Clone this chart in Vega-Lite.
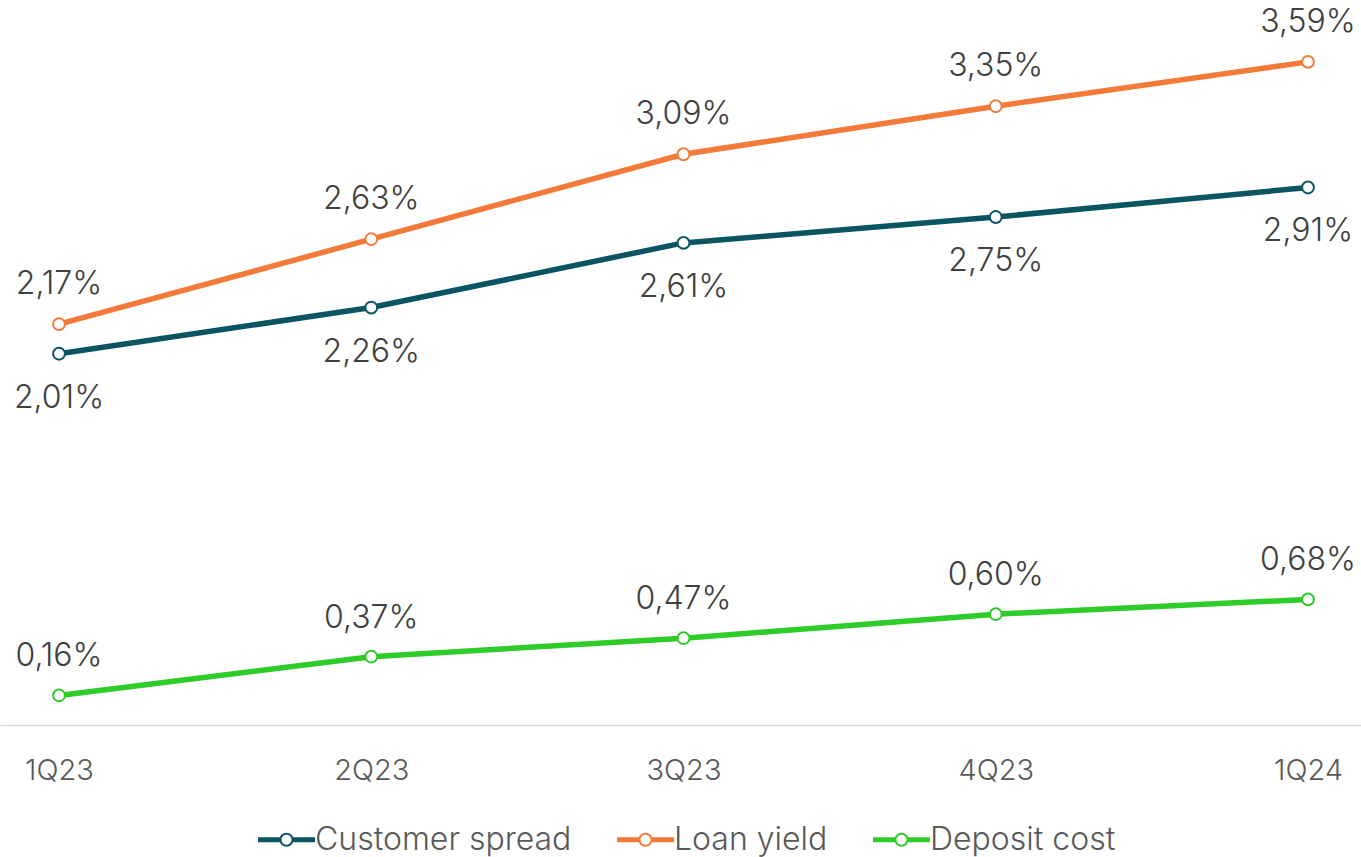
{
  "$schema": "https://vega.github.io/schema/vega-lite/v6.json",
  "width": 1361,
  "height": 725,
  "autosize": {"type": "none"},
  "padding": {"top": 0, "left": 0, "right": 0, "bottom": 132},
  "background": "white",
  "config": {
    "view": {"stroke": null},
    "font": "Inter",
    "locale": {"number": {"decimal": ",", "thousands": ".", "grouping": [3], "currency": ["", " €"]}}
  },
  "data": {"values": [
    {"quarter": "1Q23", "series": "Customer spread", "value": 0.0201},
    {"quarter": "2Q23", "series": "Customer spread", "value": 0.0226},
    {"quarter": "3Q23", "series": "Customer spread", "value": 0.0261},
    {"quarter": "4Q23", "series": "Customer spread", "value": 0.0275},
    {"quarter": "1Q24", "series": "Customer spread", "value": 0.0291},
    {"quarter": "1Q23", "series": "Loan yield", "value": 0.0217},
    {"quarter": "2Q23", "series": "Loan yield", "value": 0.0263},
    {"quarter": "3Q23", "series": "Loan yield", "value": 0.0309},
    {"quarter": "4Q23", "series": "Loan yield", "value": 0.0335},
    {"quarter": "1Q24", "series": "Loan yield", "value": 0.0359},
    {"quarter": "1Q23", "series": "Deposit cost", "value": 0.0016},
    {"quarter": "2Q23", "series": "Deposit cost", "value": 0.0037},
    {"quarter": "3Q23", "series": "Deposit cost", "value": 0.0047},
    {"quarter": "4Q23", "series": "Deposit cost", "value": 0.0060},
    {"quarter": "1Q24", "series": "Deposit cost", "value": 0.0068}
  ]},
  "encoding": {
    "x": {
      "field": "quarter", "type": "ordinal", "sort": null,
      "scale": {"type": "point", "range": [0, 1367], "padding": 0.189},
      "axis": {"title": null, "labelAngle": 0, "ticks": false, "labelFontSize": 29, "labelColor": "#595959", "labelFont": "Inter", "labelFontWeight": 300, "labelPadding": 31, "domainColor": "#d9d9d9", "domainWidth": 1.5, "grid": false}
    },
    "y": {
      "field": "value", "type": "quantitative",
      "scale": {"domain": [0, 0.03925], "nice": false, "zero": true},
      "axis": null
    }
  },
  "layer": [
    {
      "mark": {"type": "line", "strokeWidth": 5.5},
      "encoding": {
        "color": {
          "field": "series", "type": "nominal",
          "scale": {"domain": ["Customer spread", "Loan yield", "Deposit cost"], "range": ["#0b5563", "#f47a3a", "#2ecc28"]},
          "legend": {
            "title": null, "orient": "none", "direction": "horizontal",
            "legendX": 258, "legendY": 811, "padding": 0,
            "labelLimit": 500,
            "labelFontSize": 32, "labelColor": "#595959", "labelFont": "Inter", "labelFontWeight": 300,
            "symbolType": "M-1,-0.088L-0.2,-0.088L-0.2,0.088L-1,0.088ZM0.2,-0.088L1,-0.088L1,0.088L0.2,0.088ZM0.246,0A0.246,0.246 0 1,1 -0.246,0A0.246,0.246 0 1,1 0.246,0ZM0.175,0A0.175,0.175 0 1,0 -0.175,0A0.175,0.175 0 1,0 0.175,0Z",
            "symbolSize": 3249, "symbolStrokeWidth": 0,
            "labelOffset": 0, "columnPadding": 45,
            "encode": {"symbols": {"update": {"fill": {"scale": "color", "field": "value"}, "fillOpacity": {"value": 1}, "strokeWidth": {"value": 0}, "opacity": {"value": 1}}}}
          }
        }
      }
    },
    {
      "mark": {"type": "point", "filled": false, "fill": "white", "fillOpacity": 1, "size": 140, "strokeWidth": 2, "opacity": 1},
      "encoding": {"stroke": {"field": "series", "type": "nominal", "scale": {"domain": ["Customer spread", "Loan yield", "Deposit cost"], "range": ["#0b5563", "#f47a3a", "#2ecc28"]}, "legend": null}}
    },
    {
      "transform": [{"filter": "datum.series === 'Loan yield'"}],
      "mark": {"type": "text", "dy": -40, "fontSize": 32, "fontWeight": 300, "color": "#404040"},
      "encoding": {"text": {"field": "value", "type": "quantitative", "format": ".2%"}}
    },
    {
      "transform": [{"filter": "datum.series === 'Customer spread'"}],
      "mark": {"type": "text", "dy": 44, "fontSize": 32, "fontWeight": 300, "color": "#404040"},
      "encoding": {"text": {"field": "value", "type": "quantitative", "format": ".2%"}}
    },
    {
      "transform": [{"filter": "datum.series === 'Deposit cost'"}],
      "mark": {"type": "text", "dy": -39, "fontSize": 32, "fontWeight": 300, "color": "#404040"},
      "encoding": {"text": {"field": "value", "type": "quantitative", "format": ".2%"}}
    }
  ]
}
